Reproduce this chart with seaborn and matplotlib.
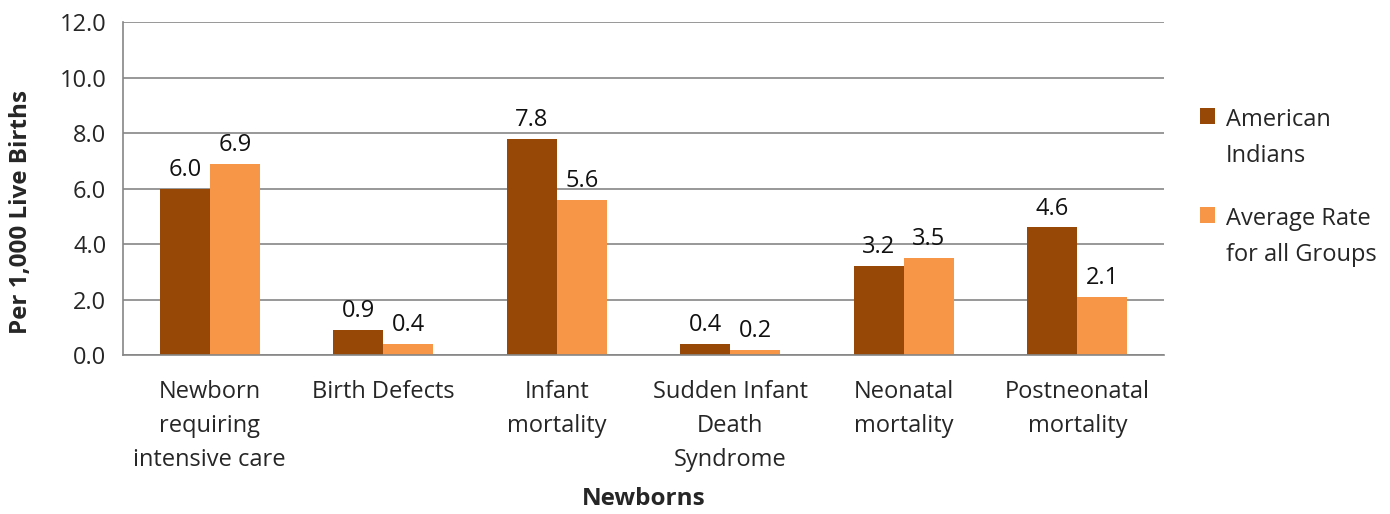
import matplotlib
matplotlib.use("Agg")
import matplotlib.pyplot as plt
import seaborn as sns
import pandas as pd

categories = ["Newborn\nrequiring\nintensive care", "Birth Defects", "Infant\nmortality",
              "Sudden Infant\nDeath\nSyndrome", "Neonatal\nmortality", "Postneonatal\nmortality"]
american_indians = [6.0, 0.9, 7.8, 0.4, 3.2, 4.6]
average_rate = [6.9, 0.4, 5.6, 0.2, 3.5, 2.1]
series_names = ["American\nIndians", "Average Rate\nfor all Groups"]
colors = ["#974706", "#F79646"]

df = pd.DataFrame({
    "Category": categories * 2,
    "Value": american_indians + average_rate,
    "Series": [series_names[0]] * 6 + [series_names[1]] * 6,
})

sns.set_style("white")
plt.rcParams["font.family"] = ["Open Sans", "DejaVu Sans"]

fig = plt.figure(figsize=(13.9, 5.14), dpi=100)
ax = fig.add_axes([0.0885, 0.309, 0.749, 0.648])

sns.barplot(data=df, x="Category", y="Value", hue="Series", palette=colors,
            width=0.576, saturation=1, ax=ax, legend=True, linewidth=0, edgecolor="none")

for cont in ax.containers:
    ax.bar_label(cont, fmt="%.1f", fontsize=17, padding=5, color="#111111")

ax.set_ylim(0, 12)
ax.set_xlim(-0.5, 5.5)
ax.set_yticks([0, 2, 4, 6, 8, 10, 12])
ax.set_yticklabels([f"{v:.1f}" for v in [0, 2, 4, 6, 8, 10, 12]], fontsize=17)
ax.tick_params(axis="y", length=8, color="#868686", width=1.2, pad=4)
ax.tick_params(axis="x", length=0, labelsize=17, pad=18)
for t in ax.get_xticklabels():
    t.set_linespacing(1.55)
ax.yaxis.grid(True, color="#868686", linewidth=1.2)
ax.set_axisbelow(True)
for s in ["top", "right"]:
    ax.spines[s].set_visible(False)
for s in ["left", "bottom"]:
    ax.spines[s].set_color("#868686")
    ax.spines[s].set_linewidth(1.2)

ax.set_xlabel("Newborns", fontsize=17.5, fontweight="bold")
ax.xaxis.set_label_coords(0.5, -0.395)
ax.set_ylabel("Per 1,000 Live Births", fontsize=17.5, fontweight="bold")
ax.yaxis.set_label_coords(-0.086, 0.43)

leg = ax.legend(loc="upper left", bbox_to_anchor=(1.025, 0.77), frameon=False,
                fontsize=17, handlelength=0.65, handleheight=0.65, handletextpad=0.45,
                labelspacing=1.65, borderaxespad=0)
for t in leg.get_texts():
    t.set_linespacing(1.65)
for col in leg._legend_handle_box.get_children():
    for item in col.get_children():
        item.align = "top"

fig.savefig("out.png", dpi=100)
